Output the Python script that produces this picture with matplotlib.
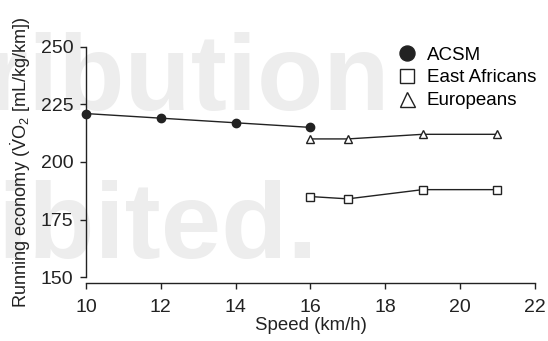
import matplotlib
matplotlib.use("Agg")
import matplotlib.pyplot as plt

plt.rcParams["font.family"] = ["Liberation Sans", "DejaVu Sans"]
plt.rcParams["mathtext.fontset"] = "custom"
plt.rcParams["mathtext.rm"] = "Liberation Sans"
plt.rcParams["mathtext.it"] = "Liberation Sans:italic"

# data
acsm_speed = [10, 12, 14, 16]
acsm_re = [221, 219, 217, 215]
ea_speed = [16, 17, 19, 21]
ea_re = [185, 184, 188, 188]
eu_speed = [16, 17, 19, 21]
eu_re = [210, 210, 212, 212]

x_ticks = [10, 12, 14, 16, 18, 20, 22]
y_ticks = [150, 175, 200, 225, 250]

line_col = "#222222"

fig = plt.figure(figsize=(5.48, 3.41), dpi=100)
ax = fig.add_axes([0.157, 0.187, 0.819, 0.676])
ax.set_facecolor("none")

# faint watermark behind the chart
fig.text(0.712, 0.677, "distribution", ha="right", va="baseline",
         fontsize=78, fontweight="bold", color="#ededed", zorder=-1)
fig.text(0.580, 0.243, "prohibited.", ha="right", va="baseline",
         fontsize=78, fontweight="bold", color="#ededed", zorder=-1)

ax.plot(acsm_speed, acsm_re, color=line_col, lw=1, marker="o", ms=6,
        mfc=line_col, mec=line_col, label="ACSM", clip_on=False, zorder=3)
ax.plot(ea_speed, ea_re, color=line_col, lw=1, marker="s", ms=5.5,
        mfc="white", mec=line_col, mew=1, label="East Africans", clip_on=False, zorder=3)
ax.plot(eu_speed, eu_re, color=line_col, lw=1, marker="^", ms=6,
        mfc="white", mec=line_col, mew=1, label="Europeans", clip_on=False, zorder=3)

ax.set_xlim(10, 22)
ax.set_ylim(150, 250)
ax.set_xticks(x_ticks)
ax.set_yticks(y_ticks)

for s in ["top", "right"]:
    ax.spines[s].set_visible(False)
ax.spines["bottom"].set_position(("outward", 4.5))
for s in ["left", "bottom"]:
    ax.spines[s].set_color(line_col)
    ax.spines[s].set_linewidth(1)
ax.tick_params(direction="out", length=4, width=1, color=line_col,
               labelsize=14, labelcolor="#222222", pad=5)
ax.tick_params(axis="x", pad=7)

ax.set_xlabel("Speed (km/h)", fontsize=13.4, color="#222222", labelpad=1)
ax.set_ylabel(r"Running economy ($\dot{\mathrm{V}}\mathrm{O}_2$ [mL/kg/km])",
              fontsize=13.1, color="#222222", labelpad=6)

handles, labels = ax.get_legend_handles_labels()
leg = ax.legend(handles, labels, loc="upper left", bbox_to_anchor=(0.677, 1.034),
                borderaxespad=0, frameon=False, fontsize=13.5, handlelength=1.0,
                handletextpad=0.57, labelspacing=0.31, markerscale=1.8)
for lh in leg.legend_handles:
    lh.set_linestyle("none")

fig.savefig("out.png", dpi=100)
